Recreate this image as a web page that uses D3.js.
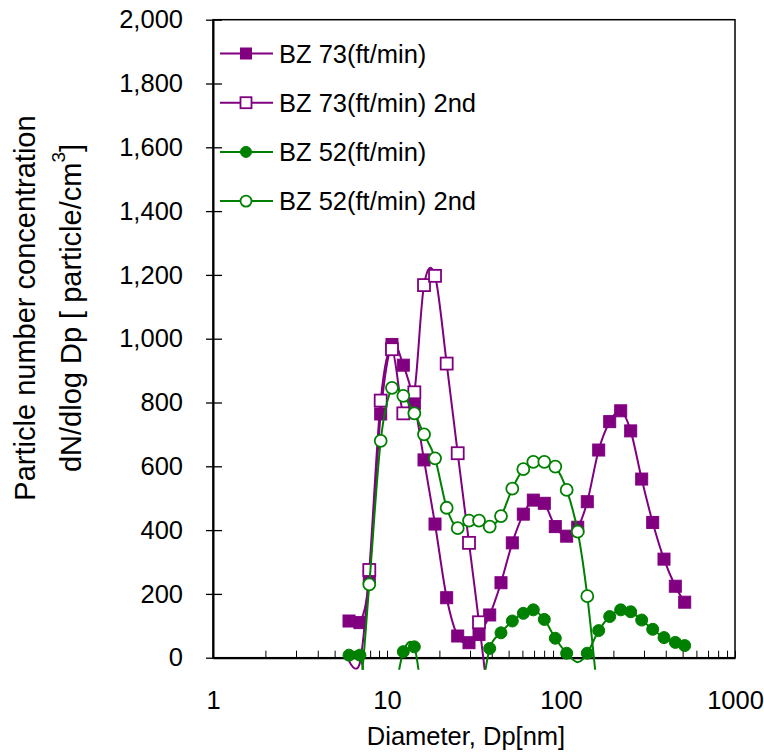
<!DOCTYPE html>
<html>
<head>
<meta charset="utf-8">
<script src="https://cdn.jsdelivr.net/npm/d3@7"></script>
<style>
  body { margin: 0; background: #fff; }
  svg { display: block; font-family: Arial, "Liberation Sans", sans-serif; }
</style>
</head>
<body>
<svg id="chart" width="764" height="752"></svg>
<script>
// particle diameters (nm) of the size channels
const diam = [6.05, 6.99, 7.91, 9.2, 10.68, 12.41, 14.36, 16.32, 18.88, 22.03, 25.49, 29.6,
  33.79, 38.93, 45.2, 52.5, 60.74, 69.32, 80.17, 92.73, 107.8, 124.8, 141.6, 164.7,
  190.5, 220.3, 251.5, 290.9, 336.5, 390.8, 453.9, 513.9];

// dN/dlogDp per channel (negative values fall below the axis and are not marked)
const bz73 = [115, 110, 255, 764, 982, 917, 797, 620, 419, 188, 68, 47,
  73, 134, 235, 360, 450, 494, 484, 411, 381, 409, 489, 651,
  740, 774, 711, 560, 424, 309, 224, 174];
const bz73b = [-10, -15, 275, 806, 967, 766, 832, 1168, 1197, 922, 641, 360,
  111, -170, null, null, null, null, null, null, null, null, null, null,
  null, null, null, null, null, null, null, null];
const bz52 = [8, 8, -150, -200, -150, 19, 34, -150, -200, -200, -200, -200,
  -150, 29, 78, 115, 139, 150, 120, 61, 14, -14, 14, 85,
  129, 150, 144, 118, 89, 63, 48, 38];
const bz52b = [-100, -100, 230, 680, 846, 821, 766, 700, 625, 470, 406, 430,
  430, 411, 444, 530, 591, 614, 614, 599, 526, 395, 193, -150,
  null, null, null, null, null, null, null, null];

const yTicks = [0, 200, 400, 600, 800, 1000, 1200, 1400, 1600, 1800, 2000];
const xMajor = [1, 10, 100, 1000];

const series = [
  { name: "BZ 73(ft/min)", values: bz73, color: "#800080", shape: "square", filled: true },
  { name: "BZ 73(ft/min) 2nd", values: bz73b, color: "#800080", shape: "square", filled: false },
  { name: "BZ 52(ft/min)", values: bz52, color: "#008000", shape: "circle", filled: true },
  { name: "BZ 52(ft/min) 2nd", values: bz52b, color: "#008000", shape: "circle", filled: false }
];

const x0 = 213, x1 = 735, y0 = 657.7, y1 = 19.7;
const svg = d3.select("#chart");

const x = d3.scaleLog().domain([1, 1000]).range([x0, x1]);
const y = d3.scaleLinear().domain([0, 2000]).range([y0, y1]);

// clip lines to the plot area (a little slack below, like the original)
svg.append("clipPath").attr("id", "clip")
  .append("rect")
  .attr("x", x0).attr("y", y1)
  .attr("width", x1 - x0).attr("height", y0 - y1 + 12);

// frame
svg.append("rect")
  .attr("x", x0).attr("y", y1)
  .attr("width", x1 - x0).attr("height", y0 - y1)
  .attr("fill", "none").attr("stroke", "#000").attr("stroke-width", 1.5);

// x axis: minor ticks pointing inward, labels only on decades
const xTicks = [];
[1, 10, 100].forEach(dec => d3.range(1, 10).forEach(k => xTicks.push(dec * k)));
xTicks.push(1000);

svg.append("g")
  .attr("transform", `translate(0,${y0})`)
  .call(d3.axisBottom(x).tickValues(xTicks).tickSize(-7).tickSizeOuter(0).tickPadding(33)
    .tickFormat(d => xMajor.includes(d) ? d : ""))
  .call(g => g.select(".domain").attr("stroke-width", 2))
  .call(g => g.selectAll(".tick line").attr("stroke-width", 1))
  .call(g => g.selectAll("text").attr("font-size", 25.5).attr("font-family", "Arial, 'Liberation Sans', sans-serif").attr("fill", "#000"));

// y axis: ticks cross the axis line
svg.append("g")
  .attr("transform", `translate(${x0},0)`)
  .call(d3.axisLeft(y).tickValues(yTicks).tickSize(7).tickSizeOuter(0).tickPadding(23)
    .tickFormat(d3.format(",")))
  .call(g => g.select(".domain").attr("stroke-width", 2))
  .call(g => g.selectAll(".tick line").attr("x1", 9).attr("stroke-width", 1.3))
  .call(g => g.selectAll("text").attr("font-size", 25.5).attr("font-family", "Arial, 'Liberation Sans', sans-serif").attr("fill", "#000"));

// marker helper
function marker(sel, s, size) {
  const r = size / 2;
  if (s.shape === "square") {
    sel.append("rect")
      .attr("x", -r).attr("y", -r).attr("width", size).attr("height", size)
      .attr("fill", s.filled ? s.color : "#fff")
      .attr("stroke", s.color).attr("stroke-width", s.filled ? 1 : 1.8);
  } else {
    sel.append("circle")
      .attr("r", r)
      .attr("fill", s.filled ? s.color : "#fff")
      .attr("stroke", s.color).attr("stroke-width", s.filled ? 1 : 1.8);
  }
}

const line = d3.line()
  .x(p => x(p.d))
  .y(p => y(p.v))
  .curve(d3.curveCardinal.tension(0));

series.forEach(s => {
  const pts = diam.map((d, i) => ({ d, v: s.values[i] })).filter(p => p.v != null);

  svg.append("path")
    .datum(pts)
    .attr("clip-path", "url(#clip)")
    .attr("fill", "none")
    .attr("stroke", s.color)
    .attr("stroke-width", 2)
    .attr("d", line);

  svg.append("g").selectAll("g")
    .data(pts.filter(p => p.v >= 0))
    .join("g")
    .attr("transform", p => `translate(${x(p.d)},${y(p.v)})`)
    .each(function() { marker(d3.select(this), s, 12); });
});

// legend
const legend = svg.append("g");
series.forEach((s, i) => {
  const ly = 53.5 + i * 49.2;
  const row = legend.append("g").attr("transform", `translate(0,${ly})`);
  row.append("line")
    .attr("x1", 220).attr("x2", 273)
    .attr("stroke", s.color).attr("stroke-width", 2);
  marker(row.append("g").attr("transform", "translate(246,0)"), s, 11);
  row.append("text")
    .attr("x", 279).attr("y", 9.2)
    .attr("font-size", 25.5)
    .text(s.name);
});

// x axis title
svg.append("text")
  .attr("x", 466).attr("y", 745)
  .attr("text-anchor", "middle")
  .attr("font-size", 25.5)
  .text("Diameter, Dp[nm]");

// y axis title (two lines, rotated)
const yt = svg.append("g").attr("transform", "rotate(-90)");
yt.append("text")
  .attr("x", -308).attr("y", 35)
  .attr("text-anchor", "middle")
  .attr("font-size", 29)
  .text("Particle number concentration");
const t2 = yt.append("text")
  .attr("x", -308).attr("y", 81)
  .attr("text-anchor", "middle")
  .attr("font-size", 29);
t2.append("tspan").text("dN/dlog Dp [ particle/cm");
t2.append("tspan").attr("dy", -16).attr("font-size", 19).text("3");
t2.append("tspan").attr("dy", 16).text("]");
</script>
</body>
</html>
